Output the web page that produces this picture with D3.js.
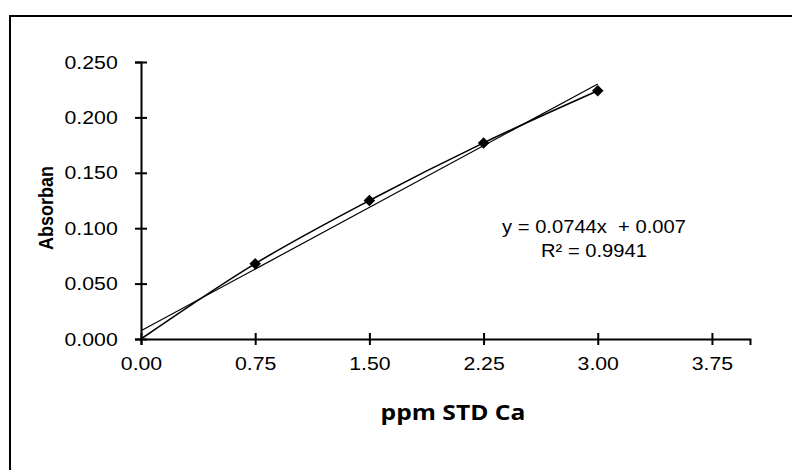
<!DOCTYPE html>
<html>
<head>
<meta charset="utf-8">
<script src="https://cdn.jsdelivr.net/npm/d3@7"></script>
<style>
  body { margin: 0; background: #fff; }
  text { font-family: "Liberation Sans", Arial, sans-serif; fill: #000; }
</style>
</head>
<body>
<script>
// Width and height of picture
var width = 792;
var height = 470;

// data
var concentration = [0, 0.75, 1.50, 2.25, 3.00];      // ppm STD Ca
var absorbance = [0, 0.068, 0.125, 0.177, 0.224];
var xTicks = [0, 0.75, 1.5, 2.25, 3.0, 3.75];
var yTicks = [0, 0.05, 0.10, 0.15, 0.20, 0.25];
var equationText = ["y = 0.0744x  + 0.007", "R\u00b2 = 0.9941"];
var xTitle = "ppm STD Ca";
var yTitle = "Absorban";

// text in the picture is a bit wide
var sx = 1.12;

var svg = d3.select("body")
  .append("svg")
  .attr("width", width)
  .attr("height", height);

// outer frame (runs off the right and bottom of the picture)
svg.append("rect")
  .attr("x", 10)
  .attr("y", 16)
  .attr("width", 900)
  .attr("height", 600)
  .style("fill", "none")
  .style("stroke", "#000")
  .style("stroke-width", 2);

var x = d3.scaleLinear().domain([0, 4]).range([141, 750]);
var y = d3.scaleLinear().domain([0, 0.25]).range([339, 62]);

// y axis
var yAxis = svg.append("g")
  .attr("transform", "translate(" + x(0) + ",0)")
  .call(d3.axisLeft(y).tickValues(yTicks).tickFormat(d3.format(".3f")).tickSizeOuter(0).tickSize(6).tickPadding(13));

// x axis
var xAxis = svg.append("g")
  .attr("transform", "translate(0," + y(0) + ")")
  .call(d3.axisBottom(x).tickValues(xTicks).tickFormat(d3.format(".2f")).tickSizeOuter(0).tickSize(6).tickPadding(12));

[yAxis, xAxis].forEach(function(ax) {
  ax.select(".domain").style("stroke", "#000").style("stroke-width", 2);
  ax.selectAll(".tick line").style("stroke", "#000").style("stroke-width", 2);
  ax.selectAll("text")
    .style("font-family", "'Liberation Sans', Arial, sans-serif")
    .style("font-size", "19px")
    .style("fill", "#000");
});
// ticks cross the axis line
yAxis.selectAll(".tick line").attr("x1", 6);
xAxis.selectAll(".tick line").attr("y1", -6);
// widen the labels like the picture
yAxis.selectAll(".tick text").attr("transform", "translate(-2,0) scale(" + sx + ",1)");
xAxis.selectAll(".tick text").attr("transform", "scale(" + sx + ",1)");

// least squares trend line from the data
var n = concentration.length;
var mx = d3.mean(concentration), my = d3.mean(absorbance);
var sxy = 0, sxx = 0;
for (var i = 0; i < n; i++) {
  sxy += (concentration[i] - mx) * (absorbance[i] - my);
  sxx += (concentration[i] - mx) * (concentration[i] - mx);
}
var slope = sxy / sxx;
var intercept = my - slope * mx;
var xMax = d3.max(concentration);

svg.append("line")
  .attr("x1", x(0))
  .attr("y1", y(intercept))
  .attr("x2", x(xMax))
  .attr("y2", y(intercept + slope * xMax))
  .style("stroke", "#000")
  .style("stroke-width", 1.2);

// smoothed series line
var points = concentration.map(function(c, i) { return [c, absorbance[i]]; });
var line = d3.line()
  .x(function(d) { return x(d[0]); })
  .y(function(d) { return y(d[1]); })
  .curve(d3.curveCardinal.tension(0));

svg.append("path")
  .datum(points)
  .attr("d", line)
  .style("fill", "none")
  .style("stroke", "#000")
  .style("stroke-width", 1.6);

// diamond markers (none shown at the origin)
svg.selectAll("path.marker")
  .data(points.filter(function(d) { return d[0] > 0; }))
  .enter()
  .append("path")
  .attr("class", "marker")
  .attr("d", d3.symbol(d3.symbolSquare, 66))
  .attr("transform", function(d) { return "translate(" + x(d[0]) + "," + y(d[1]) + ") rotate(45)"; })
  .style("fill", "#000");

// equation label
svg.selectAll("text.eq")
  .data(equationText)
  .enter()
  .append("text")
  .attr("class", "eq")
  .attr("text-anchor", "middle")
  .attr("transform", function(d, i) { return "translate(594," + (233 + i * 24) + ") scale(" + sx + ",1)"; })
  .style("font-size", "18px")
  .style("white-space", "pre")
  .text(function(d) { return d; });

// axis titles
svg.append("text")
  .attr("text-anchor", "middle")
  .attr("transform", "translate(453,420) scale(" + sx + ",1)")
  .style("font-family", "'Open Sans', sans-serif")
  .style("font-weight", "bold")
  .style("font-size", "22px")
  .text(xTitle);

svg.append("text")
  .attr("text-anchor", "middle")
  .attr("transform", "translate(53,208) scale(" + sx + ",1) rotate(-90)")
  .style("font-weight", "bold")
  .style("font-size", "18px")
  .text(yTitle);
</script>
</body>
</html>
